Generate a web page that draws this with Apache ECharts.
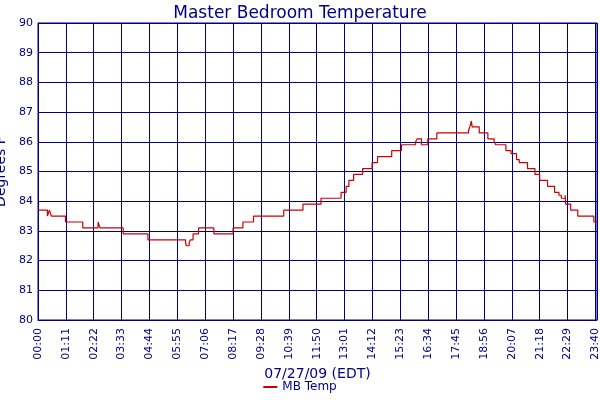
<!DOCTYPE html>
<html><head><meta charset="utf-8">
<script src="https://cdn.jsdelivr.net/npm/echarts@6/dist/echarts.min.js"></script>
<style>html,body{margin:0;padding:0;background:#fff}#c{width:600px;height:400px}</style>
</head><body><div id="c"></div>
<script>
const minutes = [0,24,29,34,70,114,153,158,217,280,376,378,385,388,395,409,448,497,522,549,626,675,721,772,785,792,804,827,851,865,901,926,962,966,977,993,1016,1097,1100,1104,1106,1124,1146,1162,1166,1192,1205,1219,1226,1247,1266,1278,1298,1316,1327,1333,1343,1344,1357,1375,1416,1424];
const temps = [83.7,83.5,83.7,83.5,83.3,83.1,83.3,83.1,82.9,82.7,82.6,82.5,82.6,82.7,82.9,83.1,82.9,83.1,83.3,83.5,83.7,83.9,84.1,84.3,84.5,84.7,84.9,85.1,85.3,85.5,85.7,85.9,86.0,86.1,85.9,86.1,86.3,86.4,86.5,86.7,86.5,86.3,86.1,86.0,85.9,85.7,85.6,85.4,85.3,85.1,84.9,84.7,84.5,84.3,84.2,84.1,84.2,83.9,83.7,83.5,83.3,83.3];
const tickMinutes = [0,71,142,213,284,355,426,497,568,639,710,781,852,923,994,1065,1136,1207,1278,1349,1420,1424];
const navy = '#000080';
const fmt = v => { const h = Math.floor(v/60), m = Math.round(v%60); return String(h).padStart(2,'0')+':'+String(m).padStart(2,'0'); };
const chart = echarts.init(document.getElementById('c'));
chart.setOption({
  animation:false,
  textStyle:{fontFamily:'DejaVu Sans'},
  title:{text:'Master Bedroom Temperature',left:'center',top:0,textStyle:{color:navy,fontSize:17,fontWeight:'normal',fontFamily:'DejaVu Sans'}},
  legend:{bottom:2,left:'center',itemWidth:14,itemHeight:2,icon:'rect',textStyle:{color:navy,fontSize:12},data:['MB Temp']},
  grid:{left:38,right:3,top:23,bottom:80,show:true,borderColor:navy,borderWidth:1,containLabel:false,outerBoundsMode:'none'},
  xAxis:{type:'value',min:0,max:1424,name:'07/27/09 (EDT)',nameLocation:'middle',nameGap:47,
    nameTextStyle:{color:navy,fontSize:14},
    axisLine:{lineStyle:{color:navy}},
    axisTick:{show:false,customValues:tickMinutes},
    axisLabel:{rotate:90,color:navy,fontSize:11,formatter:fmt,customValues:tickMinutes,hideOverlap:false},
    splitLine:{lineStyle:{color:navy,width:1}}},
  yAxis:{type:'value',min:80,max:90,interval:1,name:'Degrees F',nameLocation:'middle',nameGap:25,
    nameTextStyle:{color:navy,fontSize:14},
    axisLine:{lineStyle:{color:navy}},axisTick:{show:false},
    axisLabel:{color:navy,fontSize:11,margin:5},
    splitLine:{lineStyle:{color:navy,width:1}}},
  series:[{name:'MB Temp',type:'line',step:'end',showSymbol:false,
    data:minutes.map((m,i)=>[m,temps[i]]),
    lineStyle:{color:'#cc0000',width:1.2},itemStyle:{color:'#cc0000'}}]
});
</script></body></html>
